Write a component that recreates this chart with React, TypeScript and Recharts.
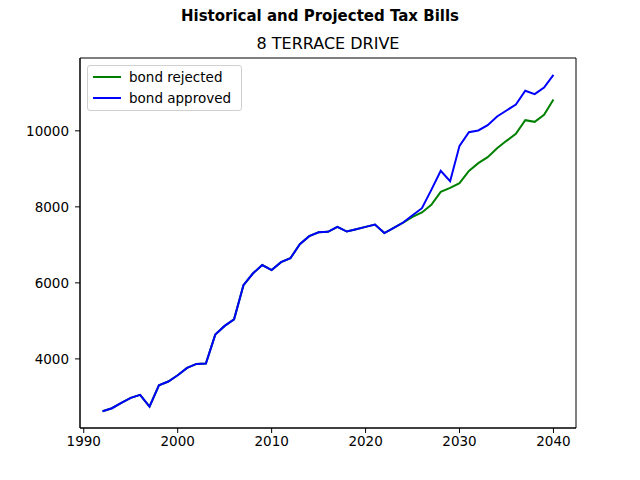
import { LineChart, Line, XAxis, YAxis, ReferenceArea } from 'recharts';

const years = Array.from({ length: 49 }, (_, i) => 1992 + i);

// 1992–2024: same bill for both scenarios
const history = [
  2624, 2702, 2842, 2974, 3053, 2745, 3307, 3404, 3570, 3763, 3868, 3877, 4640,
  4868, 5040, 5939, 6246, 6470, 6338, 6545, 6649, 7018, 7228, 7333, 7342, 7474,
  7351, 7412, 7474, 7535, 7310, 7450, 7588,
];

// 2025–2040 projections
const rejectedProjection = [
  7737, 7851, 8053, 8395, 8500, 8623, 8947, 9149, 9307, 9544, 9737, 9921, 10281,
  10237, 10421, 10825,
];
const approvedProjection = [
  7781, 7965, 8447, 8947, 8675, 9605, 9965, 10009, 10149, 10377, 10535, 10693,
  11053, 10965, 11140, 11474,
];

const xTicks = [1990, 2000, 2010, 2020, 2030, 2040];
const yTicks = [4000, 6000, 8000, 10000];

const rejected = [...history, ...rejectedProjection];
const approved = [...history, ...approvedProjection];

const data = years.map((year, i) => ({
  year,
  rejected: rejected[i],
  approved: approved[i],
}));

const X_DOMAIN: [number, number] = [1989.6, 2042.4];
const Y_DOMAIN: [number, number] = [2182, 11916];

const font = 'DejaVu Sans, sans-serif';

const legendItems = [
  { label: 'bond rejected', color: '#008000' },
  { label: 'bond approved', color: '#0000ff' },
];

function LegendBox() {
  return (
    <div
      style={{
        position: 'absolute',
        left: 87,
        top: 65,
        width: 155,
        height: 46,
        border: '1px solid #d0d0d0',
        borderRadius: 3,
        background: 'rgba(255,255,255,0.8)',
        padding: '0 0 0 5px',
        fontFamily: font,
        fontSize: 13.5,
        boxSizing: 'border-box',
        whiteSpace: 'nowrap',
      }}
    >
      {legendItems.map((it) => (
        <div key={it.label} style={{ display: 'flex', alignItems: 'center', height: 21 }}>
          <svg width={28} height={10} style={{ marginRight: 8 }}>
            <line x1={0} x2={28} y1={5} y2={5} stroke={it.color} strokeWidth={2} />
          </svg>
          <span>{it.label}</span>
        </div>
      ))}
    </div>
  );
}

export default function App() {
  return (
    <div style={{ position: 'absolute', left: 0, top: 0, width: 640, height: 480, background: '#fff' }}>
      <div
        style={{
          position: 'absolute',
          top: 7,
          left: 0,
          width: 640,
          textAlign: 'center',
          fontFamily: font,
          fontWeight: 'bold',
          fontSize: 15,
        }}
      >
        Historical and Projected Tax Bills
      </div>
      <div
        style={{
          position: 'absolute',
          top: 34,
          left: 80,
          width: 496,
          textAlign: 'center',
          fontFamily: font,
          fontSize: 16,
        }}
      >
        8 TERRACE DRIVE
      </div>
      <LineChart
        width={640}
        height={480}
        data={data}
        margin={{ top: 58, right: 64, bottom: 22, left: 0 }}
      >
        <XAxis
          dataKey="year"
          type="number"
          domain={X_DOMAIN}
          ticks={xTicks}
          allowDataOverflow
          tickSize={5}
          stroke="#000"
          tick={{ fill: '#000', fontSize: 13.5, fontFamily: font }}
          tickMargin={3}
        />
        <YAxis
          type="number"
          domain={Y_DOMAIN}
          ticks={yTicks}
          allowDataOverflow
          width={80}
          tickSize={5}
          stroke="#000"
          tick={{ fill: '#000', fontSize: 13.5, fontFamily: font }}
          tickMargin={6}
        />
        <ReferenceArea
          x1={X_DOMAIN[0]}
          x2={X_DOMAIN[1]}
          y1={Y_DOMAIN[0]}
          y2={Y_DOMAIN[1]}
          fill="none"
          stroke="#000"
          strokeWidth={1}
          ifOverflow="visible"
        />
        <Line
          dataKey="rejected"
          stroke="#008000"
          strokeWidth={2}
          dot={false}
          isAnimationActive={false}
        />
        <Line
          dataKey="approved"
          stroke="#0000ff"
          strokeWidth={2}
          dot={false}
          isAnimationActive={false}
        />
      </LineChart>
      <LegendBox />
    </div>
  );
}
